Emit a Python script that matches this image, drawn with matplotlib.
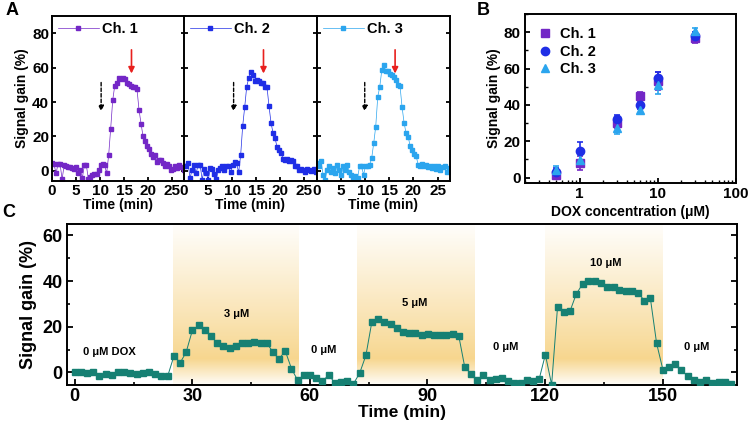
import numpy as np
import matplotlib
matplotlib.use("Agg")
import matplotlib.pyplot as plt
from matplotlib.colors import LinearSegmentedColormap
from matplotlib.ticker import MultipleLocator, LogLocator, NullFormatter

plt.rcParams['font.family'] = ['Liberation Sans', 'DejaVu Sans']
plt.rcParams['font.weight'] = 'bold'
plt.rcParams['axes.labelweight'] = 'bold'
plt.rcParams['axes.linewidth'] = 1.4
plt.rcParams['xtick.direction'] = 'in'
plt.rcParams['ytick.direction'] = 'in'

# ---- panel A: real-time signal of three channels ----
t_a = [0.00, 0.42, 0.84, 1.26, 1.68, 2.10, 2.52, 2.94, 3.36, 3.78, 4.20, 4.62,
       5.04, 5.46, 5.88, 6.30, 6.72, 7.14, 7.56, 7.98, 8.40, 8.82, 9.24, 9.66,
       10.08, 10.50, 10.92, 11.34, 11.76, 12.18, 12.60, 13.02, 13.44, 13.86,
       14.28, 14.70, 15.12, 15.54, 15.96, 16.38, 16.80, 17.22, 17.64, 18.06,
       18.48, 18.90, 19.32, 19.74, 20.16, 20.58, 21.00, 21.42, 21.84, 22.26,
       22.68, 23.10, 23.52, 23.94, 24.36, 24.78, 25.20, 25.62, 26.04, 26.46,
       26.88, 27.30, 27.72]
ch1 = [4.5, 3.8, -1.5, 3.9, 4.0, -5.0, 3.1, 2.8, 2.4, 1.9, 1.4, 0.9, 2.4, -1.2,
       0.6, -4.2, 3.2, 3.1, -5.0, -3.4, -2.5, -1.8, -1.8, 0.4, 3.4, 3.8, 3.5,
       -1.6, 9.0, 24.5, 41.0, 49.5, 51.0, 54.0, 53.5, 54.0, 53.2, 51.0, 50.5,
       49.5, 48.5, 49.0, 47.5, 35.5, 27.5, 20.0, 17.5, 14.5, 12.5, 10.0, 8.0,
       9.0, 5.0, 6.0, 6.5, 4.5, 2.5, 4.0, 2.5, 0.5, 1.0, 3.0, 1.5, 3.5, 2.0,
       0.5, 2.5]
ch2 = [3.0, 2.5, 4.4, -4.3, 0.6, 3.5, -1.4, 3.3, 3.1, -5.2, 1.0, -1.4, -5.2,
       1.5, 1.0, -1.7, -4.8, 0.6, 1.5, 2.5, 0.6, 2.9, 2.5, -1.0, 3.5, 5.2, 4.4,
       -1.0, 9.0, 26.0, 37.0, 49.0, 54.0, 57.4, 56.0, 52.0, 53.0, 52.4, 51.0,
       51.0, 49.0, 49.0, 37.7, 28.0, 22.0, 19.0, 13.7, 11.8, 10.2, 6.8, 6.0,
       7.0, 5.4, 6.4, 5.4, 2.5, 2.5, 0.2, 1.0, 0.5, -0.5, 0.8, 0.3, -0.3, 1.0,
       -0.6, 0.6]
ch3 = [4.4, 2.5, 5.4, -2.3, -5.2, 0.6, 2.9, -1.0, 1.5, -1.4, 3.5, 0.6, -2.3,
       2.5, 0.6, 3.3, -1.0, -2.3, -4.3, -2.9, -4.3, 2.5, 2.5, -2.3, 2.9, 2.5,
       3.5, 7.3, 16.0, 25.7, 43.0, 49.0, 58.5, 61.4, 58.2, 58.2, 56.2, 55.6,
       54.7, 52.8, 49.9, 49.3, 37.3, 28.0, 21.8, 19.9, 14.5, 12.2, 9.9, 8.3,
       3.5, 2.9, 4.0, 2.5, 3.5, 2.1, 3.0, 1.5, 2.8, 1.0, 2.5, 0.5, 2.0, 3.0,
       -0.5, 1.5, -1.0]
a_series = [ch1, ch2, ch3]
a_names = ['Ch. 1', 'Ch. 2', 'Ch. 3']
a_colors = ['#7327C6', '#1F2EE6', '#2BA5EE']
arrow_black_x = [10.2, 10.3, 9.9]
arrow_red_x = [16.5, 16.5, 16.2]

# ---- panel B: calibration ----
dox = [0.5, 1, 3, 6, 10, 30]
b_mean = [[1.5, 8, 30, 45, 53, 77],
          [3, 14.5, 32.5, 40, 55, 78],
          [4, 9.5, 27, 37, 51, 80.5]]
b_err = [[2, 4, 2.5, 2, 5, 3],
         [2, 5, 2, 2, 3, 2],
         [2.5, 3, 3, 2, 5, 2]]
b_markers = ['s', 'o', '^']

# ---- panel C: continuous monitoring ----
t_c = [0.0, 1.6, 3.2, 4.7, 6.3, 7.9, 9.5, 11.1, 12.6, 14.2, 15.8, 17.4, 19.0,
       20.5, 22.1, 23.7, 25.3, 26.9, 28.4, 30.0, 31.6, 33.2, 34.8, 36.3, 37.9,
       39.5, 41.1, 42.7, 44.2, 45.8, 47.4, 49.0, 50.6, 52.1, 53.7, 55.3, 56.9,
       58.5, 60.0, 61.6, 63.2, 64.8, 66.4, 67.9, 69.5, 71.1, 72.7, 74.3, 75.8,
       77.4, 79.0, 80.6, 82.2, 83.7, 85.3, 86.9, 88.5, 90.1, 91.6, 93.2, 94.8,
       96.4, 98.0, 99.5, 101.1, 102.7, 104.3, 105.9, 107.4, 109.0, 110.6,
       112.2, 113.8, 115.3, 116.9, 118.5, 120.1, 121.7, 123.2, 124.8, 126.4,
       128.0, 129.6, 131.1, 132.7, 134.3, 135.9, 137.5, 139.0, 140.6, 142.2,
       143.8, 145.4, 146.9, 148.5, 150.1, 151.7, 153.3, 154.8, 156.4, 158.0,
       159.6, 161.2, 162.7, 164.3, 165.9, 167.5]
gain_c = [0.4, 0.0, -0.1, 0.3, -1.6, -0.7, -0.9, 0.0, 0.3, -0.3, -0.6, -0.4,
          0.4, -0.6, -1.4, -1.6,
          7.2, 4.3, 8.8, 18.4, 20.7, 18.4, 16.0, 12.8, 11.4, 10.8, 11.7, 12.7,
          12.7, 13.4, 12.8, 12.8, 8.9, 5.8, 9.5, 1.7,
          -3.5, -1.0, -1.0, -2.6, -3.7, -1.2, -4.5, -4.3, -3.7, -5.0, -0.3,
          7.5, 22.0, 23.5, 22.0, 21.2, 19.6, 17.7, 17.4, 17.4, 16.4, 16.8,
          16.5, 16.4, 16.4, 17.0, 16.0, 2.6,
          -0.7, -3.2, -1.2, -3.3, -2.9, -2.3, -3.7, -4.6, -4.5, -3.3, -3.6, -3.0,
          7.8, -5.3, 28.5, 26.3, 26.9, 34.4, 38.7, 40.1, 39.9, 39.0, 37.4, 37.6,
          36.3, 35.8, 35.5, 34.8, 31.4, 32.5, 12.7,
          1.2, 2.2, 3.6, 1.2, -1.7, -3.5, -4.0, -3.2, -4.7, -4.3, -4.3, -5.0]
shade_start = [25, 72, 120]
shade_end = [57, 102, 150]
c_labels = ['0 μM DOX', '3 μM', '0 μM', '5 μM', '0 μM', '10 μM', '0 μM']
c_label_x = [8.8, 41.3, 63.6, 86.8, 110, 135.5, 158.8]
c_label_y = [8.9, 25.5, 10, 30.6, 11.2, 47.8, 11.2]

fig = plt.figure(figsize=(7.5, 4.25), dpi=100)

# panel A
for i in range(3):
    left = [0.0693, 0.2453, 0.4227][i]
    ax = fig.add_axes([left, 0.574, 0.1767, 0.388])
    ax.plot(t_a, a_series[i], '-s', color=a_colors[i], lw=0.5, ms=2.8,
            mec=a_colors[i], label=a_names[i])
    ax.set_xlim(0, 27.5)
    ax.set_ylim(-6, 90)
    ax.set_xticks([0, 5, 10, 15, 20, 25])
    ax.set_yticks([0, 20, 40, 60, 80])
    ax.tick_params(labelsize=11, width=1.3, length=3, right=True, pad=2)
    ax.set_xlabel('Time (min)', fontsize=10, labelpad=0)
    if i == 0:
        ax.set_ylabel('Signal gain (%)', fontsize=10, labelpad=2)
    else:
        ax.set_yticklabels([])
    ax.annotate('', xy=(arrow_black_x[i], 33), xytext=(arrow_black_x[i], 53),
                arrowprops=dict(arrowstyle='-|>', color='black', lw=1.0,
                                ls=(0, (2.5, 1.5)), mutation_scale=8))
    ax.annotate('', xy=(arrow_red_x[i], 55), xytext=(arrow_red_x[i], 72),
                arrowprops=dict(arrowstyle='-|>', color='#E8201E', lw=1.2,
                                mutation_scale=9))
    ax.legend(loc='upper left', frameon=False, fontsize=10.5, handlelength=2.8,
              handletextpad=0.2, borderaxespad=0.2, borderpad=0.2)

# panel B
axb = fig.add_axes([0.70, 0.5694, 0.2813, 0.3976])
for i in range(3):
    axb.errorbar(dox, b_mean[i], yerr=b_err[i], fmt=b_markers[i],
                 color=a_colors[i], ms=6, capsize=2.5, elinewidth=1.2,
                 capthick=1.2, label=a_names[i])
axb.set_xscale('log')
axb.set_xlim(0.2, 100)
axb.set_ylim(-3, 90)
axb.set_xticks([1, 10, 100])
axb.set_xticklabels(['1', '10', '100'])
axb.xaxis.set_minor_locator(LogLocator(base=10, subs=np.arange(2, 10)))
axb.xaxis.set_minor_formatter(NullFormatter())
axb.set_yticks([0, 20, 40, 60, 80])
axb.yaxis.set_minor_locator(MultipleLocator(10))
axb.tick_params(which='major', labelsize=11, width=1.3, length=3.5, pad=3)
axb.tick_params(which='minor', width=1.0, length=2)
axb.set_xlabel('DOX concentration (μM)', fontsize=10, labelpad=3)
axb.set_ylabel('Signal gain (%)', fontsize=10, labelpad=2)
hb, lb = axb.get_legend_handles_labels()
hb = [h[0] for h in hb]
axb.legend(hb, lb, loc='upper left', frameon=False, fontsize=10.5,
           handlelength=1.0, handletextpad=0.5, borderaxespad=0.5,
           labelspacing=0.25)

# panel C
axc = fig.add_axes([0.0893, 0.094, 0.8933, 0.379])
ylo, yhi = -5.5, 65
yy = np.linspace(ylo, yhi, 300)
peak = 6.0
strength = np.where(yy < peak, 0.05 + 0.95 * (yy - ylo) / (peak - ylo),
                    1.0 - 0.97 * ((yy - peak) / (yhi - peak)) ** 0.9)
grad = np.tile(strength[:, None], (1, 2))
cmap = LinearSegmentedColormap.from_list('shade', ['#FFFFFF', '#F7D68E'])
for x0, x1 in zip(shade_start, shade_end):
    axc.imshow(grad, extent=[x0, x1, ylo, yhi], origin='lower', aspect='auto',
               cmap=cmap, vmin=0, vmax=1, zorder=0, interpolation='bilinear')
axc.plot(t_c, gain_c, '-s', color='#168073', lw=0.7, ms=4.3,
         mfc='#168073', mec='#168073', zorder=3)
for txt, x, y in zip(c_labels, c_label_x, c_label_y):
    axc.text(x, y, txt, fontsize=8, fontweight='bold', ha='center',
             va='center', zorder=4)
axc.set_xlim(-2, 169)
axc.set_ylim(ylo, yhi)
axc.set_xticks([0, 30, 60, 90, 120, 150])
axc.xaxis.set_minor_locator(MultipleLocator(15))
axc.set_yticks([0, 20, 40, 60])
axc.yaxis.set_minor_locator(MultipleLocator(10))
axc.tick_params(which='major', labelsize=13, width=1.3, length=4, right=True,
                pad=3)
axc.tick_params(axis='x', which='major', pad=2)
axc.tick_params(which='minor', width=1.2, length=2.5, right=True)
axc.set_xlabel('Time (min)', fontsize=12.5, labelpad=0)
axc.set_ylabel('Signal gain (%)', fontsize=13, labelpad=4)

fig.text(0.008, 0.995, 'A', fontsize=13, fontweight='bold', va='top')
fig.text(0.636, 0.995, 'B', fontsize=13, fontweight='bold', va='top')
fig.text(0.003, 0.52, 'C', fontsize=13, fontweight='bold', va='top')

fig.savefig('out.png', dpi=100)
